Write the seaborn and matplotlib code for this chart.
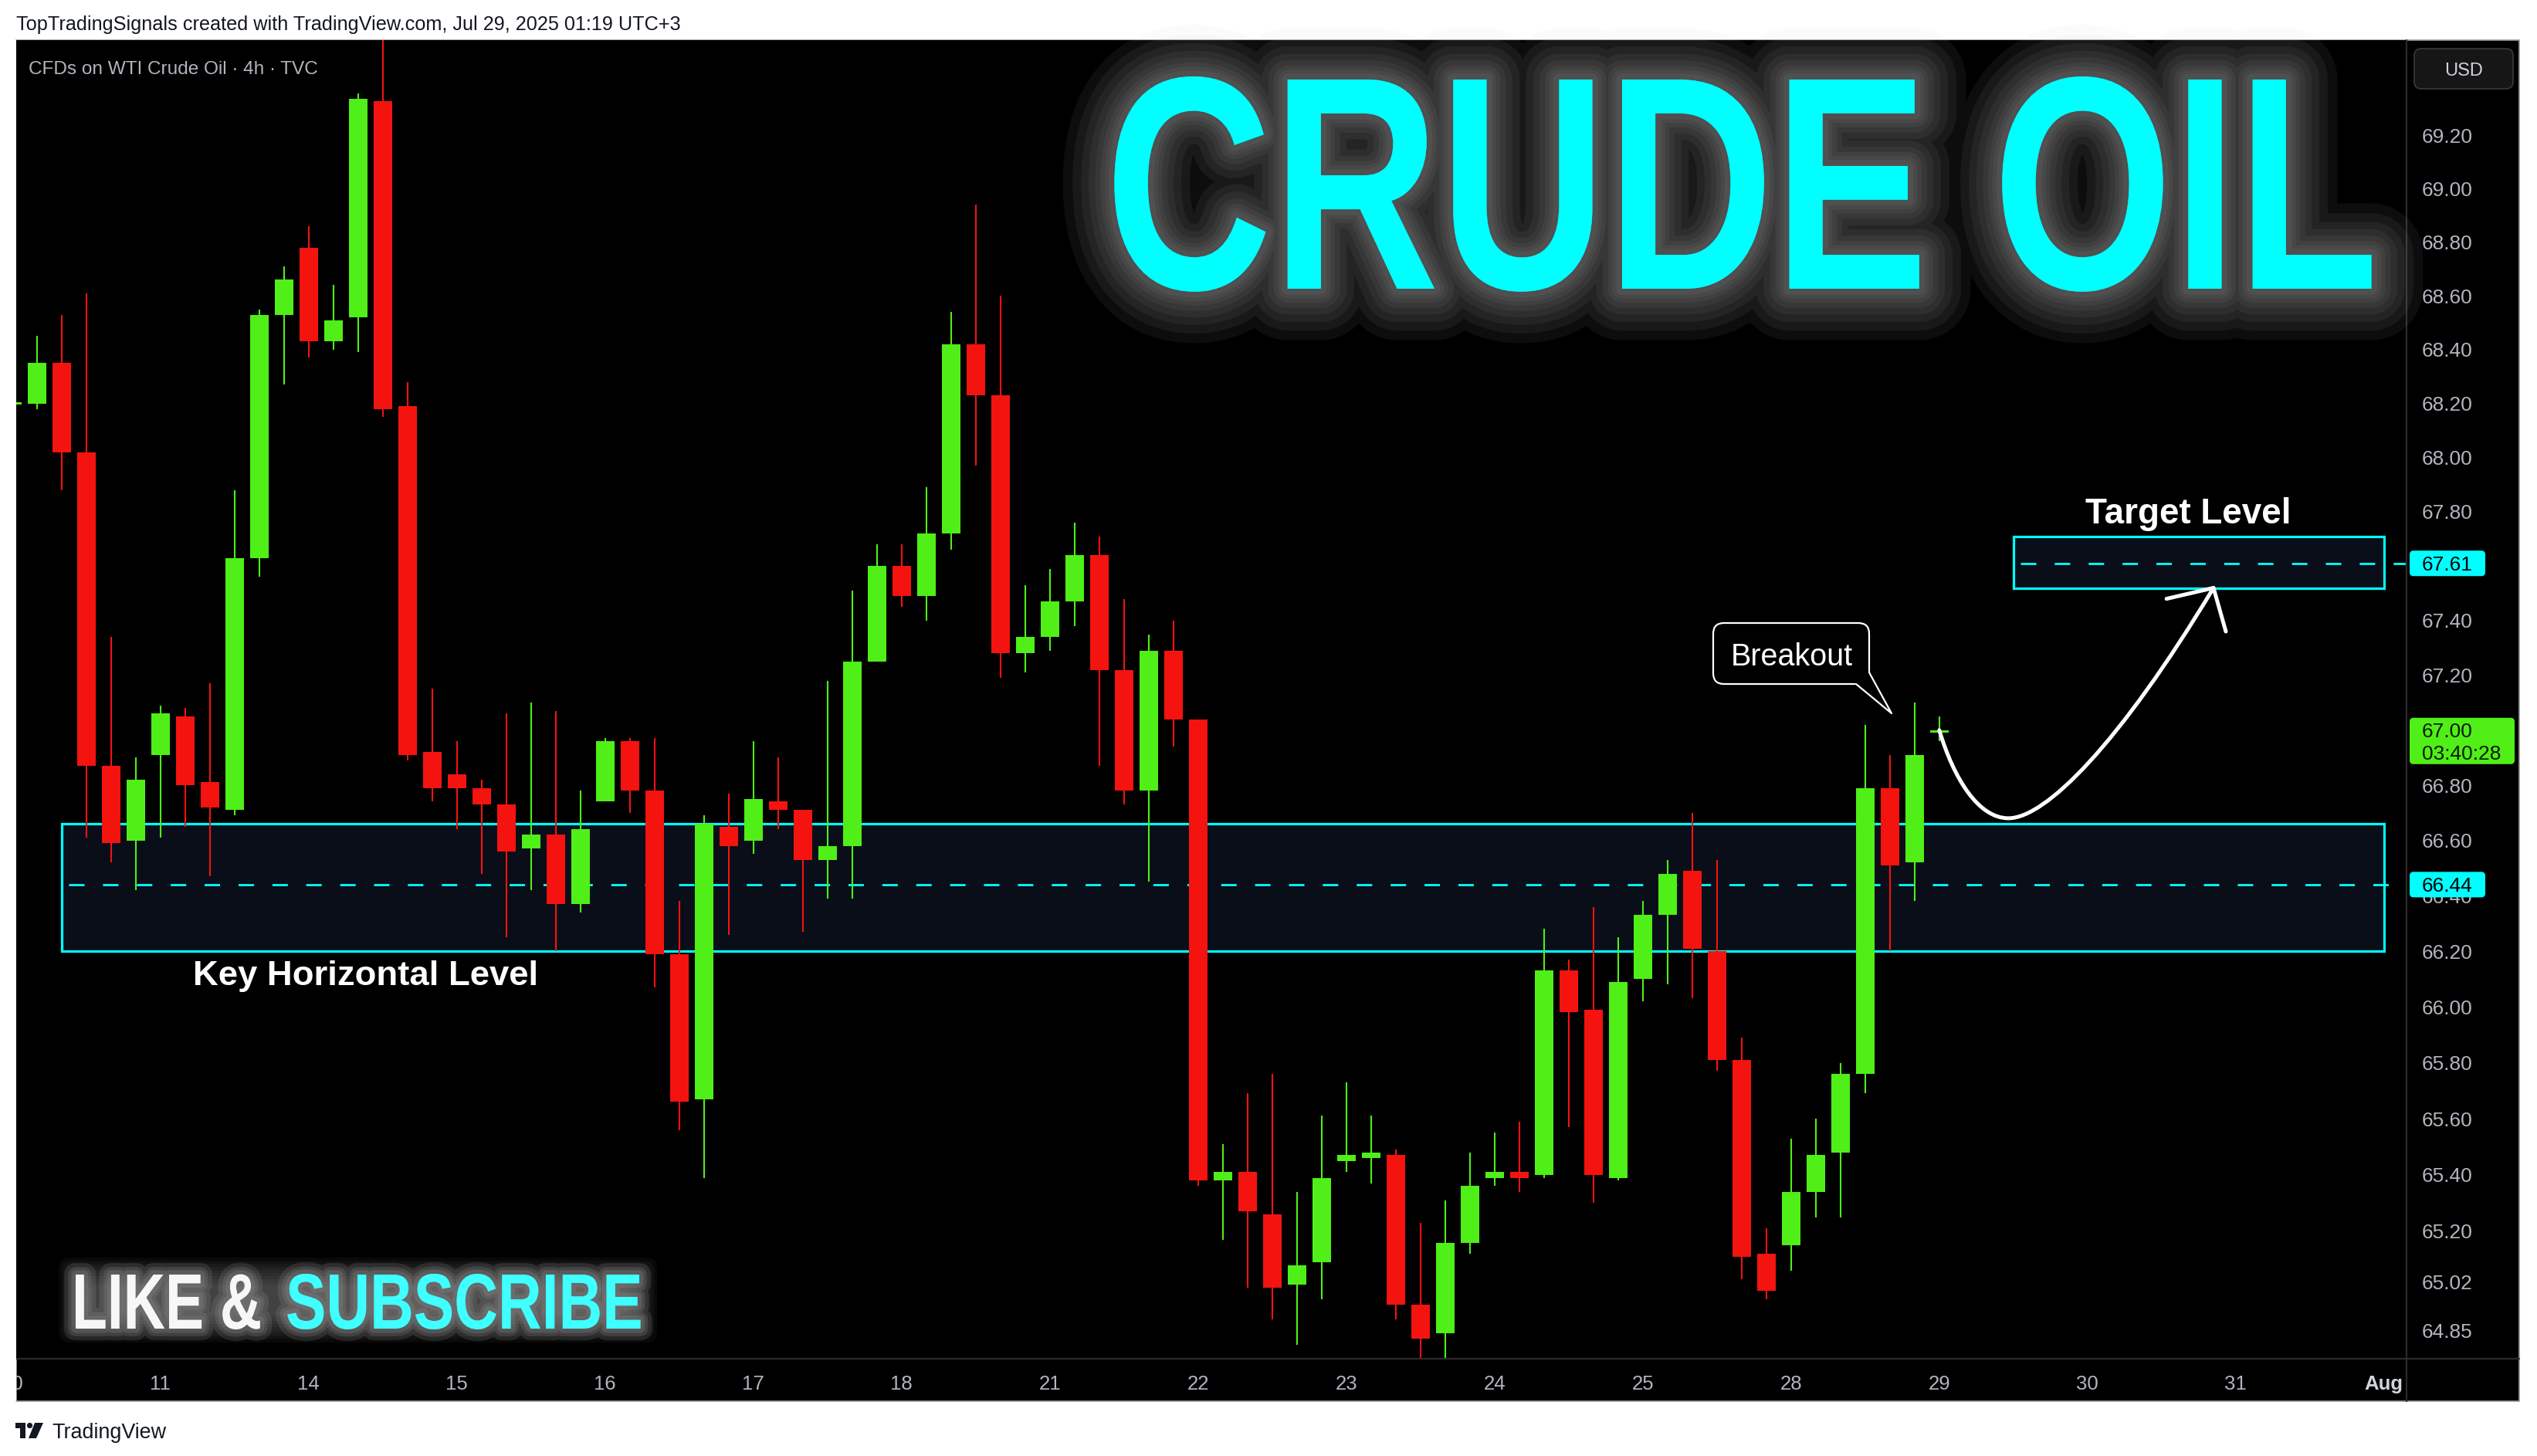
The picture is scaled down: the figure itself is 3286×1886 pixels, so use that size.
import numpy as np
import pandas as pd
import matplotlib
matplotlib.use("Agg")
import matplotlib.pyplot as plt
import matplotlib.transforms as mtransforms
import matplotlib.patheffects as pe
from matplotlib.patches import Rectangle, FancyBboxPatch, Polygon, Circle
from matplotlib.lines import Line2D
from matplotlib.path import Path
from matplotlib.patches import PathPatch
from matplotlib.textpath import TextPath
from matplotlib.font_manager import FontProperties
from matplotlib.ticker import NullLocator, NullFormatter
from matplotlib import font_manager as fm
import seaborn as sns

# ------------------------------------------------------------------ data
opens = [68.195, 68.20, 68.35, 68.02, 66.87, 66.60, 66.91, 67.05, 66.81, 66.71,
         67.63, 68.53, 68.78, 68.43, 68.52, 69.33, 68.19, 66.92, 66.84, 66.79,
         66.73, 66.57, 66.62, 66.37, 66.74, 66.96, 66.78, 66.19, 65.67, 66.65,
         66.60, 66.74, 66.71, 66.53, 66.58, 67.25, 67.60, 67.49, 67.72, 68.42,
         68.23, 67.28, 67.34, 67.47, 67.64, 67.22, 66.78, 67.29, 67.04, 65.38,
         65.41, 65.26, 65.01, 65.09, 65.45, 65.46, 65.47, 64.94, 64.84, 65.16,
         65.39, 65.41, 65.40, 66.13, 65.99, 65.39, 66.10, 66.33, 66.49, 66.20,
         65.81, 65.12, 65.15, 65.34, 65.48, 65.76, 66.79, 66.52, 66.99]
highs = [68.205, 68.45, 68.53, 68.61, 67.34, 66.90, 67.09, 67.08, 67.17, 67.88,
         68.55, 68.71, 68.86, 68.64, 69.36, 69.60, 68.28, 67.15, 66.96, 66.82,
         67.06, 67.10, 67.07, 66.78, 66.97, 66.97, 66.97, 66.38, 66.69, 66.77,
         66.96, 66.90, 66.71, 67.18, 67.51, 67.68, 67.68, 67.89, 68.54, 68.94,
         68.60, 67.53, 67.59, 67.76, 67.71, 67.48, 67.35, 67.40, 67.04, 65.51,
         65.69, 65.76, 65.34, 65.61, 65.73, 65.61, 65.49, 65.23, 65.31, 65.48,
         65.55, 65.59, 66.28, 66.17, 66.36, 66.25, 66.38, 66.53, 66.70, 66.53,
         65.89, 65.21, 65.53, 65.60, 65.80, 67.02, 66.91, 67.10, 67.05]
lows = [68.195, 68.18, 67.88, 66.61, 66.52, 66.42, 66.61, 66.65, 66.47, 66.69,
        67.56, 68.27, 68.37, 68.40, 68.39, 68.15, 66.89, 66.74, 66.64, 66.48,
        66.25, 66.42, 66.20, 66.34, 66.74, 66.70, 66.07, 65.56, 65.39, 66.26,
        66.55, 66.64, 66.27, 66.39, 66.39, 67.25, 67.45, 67.40, 67.66, 67.97,
        67.19, 67.21, 67.29, 67.38, 66.87, 66.73, 66.45, 66.94, 65.36, 65.17,
        65.00, 64.89, 64.80, 64.96, 65.41, 65.37, 64.89, 64.74, 64.74, 65.12,
        65.36, 65.34, 65.39, 65.57, 65.30, 65.38, 66.02, 66.08, 66.03, 65.77,
        65.03, 64.96, 65.06, 65.25, 65.25, 65.69, 66.20, 66.38, 66.96]
closes = [68.205, 68.35, 68.02, 66.87, 66.59, 66.82, 67.06, 66.80, 66.72, 67.63,
          68.53, 68.66, 68.43, 68.51, 69.34, 68.18, 66.91, 66.79, 66.79, 66.73,
          66.56, 66.62, 66.37, 66.64, 66.96, 66.78, 66.19, 65.66, 66.66, 66.58,
          66.75, 66.71, 66.53, 66.58, 67.25, 67.60, 67.49, 67.72, 68.42, 68.23,
          67.28, 67.34, 67.47, 67.64, 67.22, 66.78, 67.29, 67.04, 65.38, 65.41,
          65.27, 65.00, 65.08, 65.39, 65.47, 65.48, 64.94, 64.82, 65.16, 65.36,
          65.41, 65.39, 66.13, 65.98, 65.40, 66.09, 66.33, 66.48, 66.21, 65.81,
          65.11, 64.99, 65.34, 65.47, 65.76, 66.79, 66.51, 66.91, 67.00]
day_labels = ["10", "11", "14", "15", "16", "17", "18", "21", "22", "23",
              "24", "25", "28", "29", "30", "31", "Aug"]
bars_per_day = 6
price_ticks = [69.20, 69.00, 68.80, 68.60, 68.40, 68.20, 68.00, 67.80, 67.60,
               67.40, 67.20, 67.00, 66.80, 66.60, 66.40, 66.20, 66.00, 65.80,
               65.60, 65.40, 65.20, 65.02, 64.85]
key_level = 66.44
key_zone = [66.20, 66.66]
target_level = 67.61
target_zone = [67.52, 67.71]
last_price = 67.00
countdown = "03:40:28"
y_range = [64.75, 69.56]

# ------------------------------------------------------------------ style
GREEN = "#4FEF17"
RED = "#F4130E"
CYAN = "#00FFFF"
GREY_TXT = "#B2B5BE"

sns.set_theme(style="dark", rc={"axes.facecolor": "black"})
avail = {f.name for f in fm.fontManager.ttflist}


def pick(*names):
    for n in names:
        if n in avail:
            return n
    return "DejaVu Sans"


SANS = pick("Liberation Sans", "Arial", "DejaVu Sans")
plt.rcParams["font.family"] = [SANS, "DejaVu Sans"]

W, H = 3286, 1886
fig = plt.figure(figsize=(W / 100, H / 100), dpi=100, facecolor="white")
ID = mtransforms.IdentityTransform()

AX_L, AX_R, AX_T, AX_B = 21, 3117, 52, 1760
PANEL_R, PANEL_B = 3263, 1815
ax = fig.add_axes([AX_L / W, (H - AX_B) / H, (AX_R - AX_L) / W, (AX_B - AX_T) / H])
ax.set_facecolor("black")
sns.despine(ax=ax, left=True, bottom=True, right=True, top=True)

df = pd.DataFrame({"open": opens, "high": highs, "low": lows, "close": closes})
df["idx"] = np.arange(len(df))
up = df["close"] >= df["open"]
colors = np.where(up, GREEN, RED)

ax.vlines(df["idx"], df["low"], df["high"], colors=colors, lw=1.5, zorder=3)
body_lo = np.minimum(df["open"], df["close"])
body_h = (df["close"] - df["open"]).abs().clip(lower=0.006)
ax.bar(df["idx"], body_h, bottom=body_lo, width=0.75, color=colors, linewidth=0, zorder=4)

ax.set_yscale("log")
X_MIN, X_MAX = (AX_L - 15.8) / 32.0, (AX_R - 15.8) / 32.0
ax.set_xlim(X_MIN, X_MAX)
ax.set_ylim(*y_range)
ax.grid(False)

# zones
KEY_X0, KEY_X1 = 2, 96
TGT_X0, TGT_X1 = 81, 96
ax.add_patch(Rectangle((KEY_X0, key_zone[0]), KEY_X1 - KEY_X0, key_zone[1] - key_zone[0],
                       fc="#0A0E19", ec=CYAN, lw=2.3, zorder=1))
ax.add_patch(Rectangle((TGT_X0, target_zone[0]), TGT_X1 - TGT_X0, target_zone[1] - target_zone[0],
                       fc="#0A0E19", ec=CYAN, lw=2.3, zorder=1))
dash = (0, (7.2, 8.6))
ax.plot([KEY_X0 + 0.3, X_MAX], [key_level, key_level], color=CYAN, lw=2.0, ls=dash, zorder=2)
ax.plot([TGT_X0 + 0.3, X_MAX], [target_level, target_level], color=CYAN, lw=2.0, ls=dash, zorder=2)

# curved arrow
arrow_pts = [(78.0, 67.00), (78.6, 66.82), (79.6, 66.68), (80.8, 66.68),
             (82.3, 66.68), (85.3, 66.95), (89.1, 67.52)]
codes = [Path.MOVETO, Path.CURVE4, Path.CURVE4, Path.CURVE4,
         Path.CURVE4, Path.CURVE4, Path.CURVE4]
ax.add_patch(PathPatch(Path(arrow_pts, codes), fc="none", ec="white", lw=3.6,
                       capstyle="round", zorder=6))
head = [(87.2, 67.48), (89.1, 67.52), (89.6, 67.36)]
ax.plot([p[0] for p in head], [p[1] for p in head], color="white", lw=3.6,
        solid_capstyle="round", solid_joinstyle="round", zorder=6)

# price axis
ax.yaxis.tick_right()
ax.set_yticks(price_ticks)
ax.set_yticklabels([f"{t:.2f}" for t in price_ticks])
ax.yaxis.set_minor_locator(NullLocator())
ax.yaxis.set_minor_formatter(NullFormatter())
ax.tick_params(axis="y", length=0, pad=14.4, labelsize=19, labelcolor=GREY_TXT)
ax.set_xticks([])

# time axis labels
tblend = mtransforms.blended_transform_factory(ax.transData, ID)
for k, lab in enumerate(day_labels):
    is_month = not lab.isdigit()
    ax.text(k * bars_per_day, H - 1800, lab, transform=tblend, ha="center", va="baseline",
            fontsize=18.5, color="#D1D4DC" if is_month else GREY_TXT,
            fontweight="bold" if is_month else "normal", clip_on=False)

# ------------------------------------------------------------------ frame
fig.add_artist(Rectangle((AX_L, H - PANEL_B), PANEL_R - AX_L, PANEL_B - AX_T, transform=ID,
                         fc="black", ec="#9A9A9A", lw=1.2, zorder=-5))
fig.add_artist(Line2D([AX_R, AX_R], [H - AX_T, H - PANEL_B], transform=ID, color="#2B2B2B",
                      lw=1.6, zorder=2))
fig.add_artist(Line2D([AX_L, PANEL_R], [H - AX_B, H - AX_B], transform=ID, color="#2B2B2B",
                      lw=1.6, zorder=2))
fig.add_artist(Rectangle((0, H - PANEL_B), AX_L - 0.5, PANEL_B - AX_T, transform=ID,
                         fc="white", ec="none", zorder=30))

renderer = fig.canvas.get_renderer()


def ftext(x, ytop, s, width=None, **kw):
    t = fig.text(x, H - ytop, s, transform=ID, **kw)
    if width is not None:
        for _ in range(3):
            w = t.get_window_extent(renderer).width
            t.set_fontsize(t.get_fontsize() * width / w)
    return t


class StretchStroke(pe.Stroke):
    """Stroke drawn through an extra display-space stretch."""
    def __init__(self, stretch, **kw):
        super().__init__(**kw)
        self._stretch = stretch

    def draw_path(self, renderer, gc, tpath, affine, rgbFace):
        super().draw_path(renderer, gc, tpath, affine + self._stretch, rgbFace)


class StretchNormal(pe.AbstractPathEffect):
    def __init__(self, stretch):
        super().__init__()
        self._stretch = stretch

    def draw_path(self, renderer, gc, tpath, affine, rgbFace):
        renderer.draw_path(gc, tpath, affine + self._stretch, rgbFace)


def glow_text(x, ybase, ycap_top, s, width, color, glow_color, glow_widths, glow_alpha, zorder):
    """Real text fitted to a width, then stretched vertically to a cap height, with glow."""
    t = ftext(x, ybase, s, width=width, fontsize=100, color=color, fontweight="bold",
              va="baseline", ha="left", zorder=zorder)
    fs_px = t.get_fontsize() * 100 / 72
    cap = TextPath((0, 0), "E", size=fs_px,
                   prop=FontProperties(family=SANS, weight="bold")).get_extents().height
    sy = (ybase - ycap_top) / cap
    yb = H - ybase
    stretch = mtransforms.Affine2D().translate(0, -yb).scale(1.0, sy).translate(0, yb)
    effects = [StretchStroke(stretch, linewidth=lw, foreground=glow_color, alpha=glow_alpha,
                             joinstyle="round", capstyle="round")
               for lw in glow_widths]
    effects.append(StretchNormal(stretch))
    t.set_path_effects(effects)
    return t


def py(p):
    return ax.transData.transform((0, p))[1]


# price labels on axis
for lvl in (target_level, key_level):
    yd = py(lvl)
    fig.add_artist(FancyBboxPatch((3121, yd - 16.5), 98, 33, boxstyle="round,pad=0,rounding_size=5",
                                  transform=ID, fc=CYAN, ec="none", zorder=5))
    fig.text(3137, yd, f"{lvl:.2f}", transform=ID, fontsize=19, color="black",
             va="center_baseline", ha="left", zorder=6)
yd = py(last_price)
fig.add_artist(FancyBboxPatch((3121, yd - 44), 136, 60, boxstyle="round,pad=0,rounding_size=5",
                              transform=ID, fc=GREEN, ec="none", zorder=5))
fig.text(3137, yd, f"{last_price:.2f}", transform=ID, fontsize=19, color="#0B1A05",
         va="center_baseline", ha="left", zorder=6)
fig.text(3137, yd - 29, countdown, transform=ID, fontsize=19, color="#0B1A05",
         va="center_baseline", ha="left", zorder=6)

# USD button
fig.add_artist(FancyBboxPatch((3127, H - 115), 128, 52, boxstyle="round,pad=0,rounding_size=9",
                              transform=ID, fc="#161616", ec="#3A3A3A", lw=1.2, zorder=5))
fig.text(3191, H - 89, "USD", transform=ID, fontsize=17, color="#D1D4DC",
         ha="center", va="center_baseline", fontweight="medium", zorder=6)

# header / footer texts
ftext(21, 39, "TopTradingSignals created with TradingView.com, Jul 29, 2025 01:19 UTC+3",
      width=861, fontsize=17, color="#131722", va="baseline", ha="left")
ftext(37, 96, "CFDs on WTI Crude Oil · 4h · TVC", width=377, fontsize=17,
      color=GREY_TXT, va="baseline", ha="left", zorder=6)
ftext(67, 1863, "TradingView", width=148, fontsize=18, color="#131722",
      va="baseline", ha="left")
fig.add_artist(Polygon([(20, H - 1843), (33, H - 1843), (33, H - 1863), (26, H - 1863),
                        (26, H - 1850), (20, H - 1850)], closed=True, transform=ID,
                       fc="#131722", ec="none"))
fig.add_artist(Circle((38.5, H - 1846.5), 3.6, transform=ID, fc="#131722", ec="none"))
fig.add_artist(Polygon([(45, H - 1843), (56, H - 1843), (47, H - 1863), (37, H - 1863)],
                       closed=True, transform=ID, fc="#131722", ec="none"))

# annotations
ftext(250, 1276, "Key Horizontal Level", width=447, fontsize=33, color="white",
      fontweight="bold", va="baseline", ha="left", zorder=7)
ftext(2701, 678, "Target Level", width=266, fontsize=33, color="white",
      fontweight="bold", va="baseline", ha="left", zorder=7)

bx0, bx1, by0, by1 = 2219, 2421, 807, 886
fig.add_artist(FancyBboxPatch((bx0, H - by1), bx1 - bx0, by1 - by0,
                              boxstyle="round,pad=0,rounding_size=14", transform=ID,
                              fc="black", ec="white", lw=1.6, zorder=6))
fig.add_artist(Polygon([(2402, H - 883), (2404, H - 888), (2450, H - 924), (2423, H - 871),
                        (2418, H - 869)], closed=True, transform=ID, fc="black", ec="none",
                       zorder=7))
fig.add_artist(Line2D([2404, 2450, 2421], [H - 886, H - 924, H - 871], transform=ID,
                      color="white", lw=1.6, zorder=8))
ftext(2321, 862, "Breakout", width=158, fontsize=28, color="white",
      va="baseline", ha="center", zorder=9)

# big title with glow
glow_text(1431, 374, 103, "CRUDE OIL", 1650, CYAN, "#C4C4C4",
          (96, 78, 62, 48, 36, 26, 18, 11), 0.065, 4)

# LIKE & SUBSCRIBE band + text
for k in range(10):
    ins = k * 4
    fig.add_artist(FancyBboxPatch((76 + ins, H - 1739 + ins), 775 - 2 * ins, 110 - 2 * ins,
                                  boxstyle="round,pad=0,rounding_size=14", transform=ID,
                                  fc="#8A8A8A", ec="none", alpha=0.065, zorder=3))
glow_text(93, 1721, 1651, "LIKE &", 246, "#F7F7F7", "#C8C8C8", (22, 14, 8), 0.12, 4)
glow_text(370, 1721, 1651, "SUBSCRIBE", 463, "#40FFFF", "#C8C8C8", (22, 14, 8), 0.12, 4)

fig.savefig("out.png", dpi=100, facecolor="white")
